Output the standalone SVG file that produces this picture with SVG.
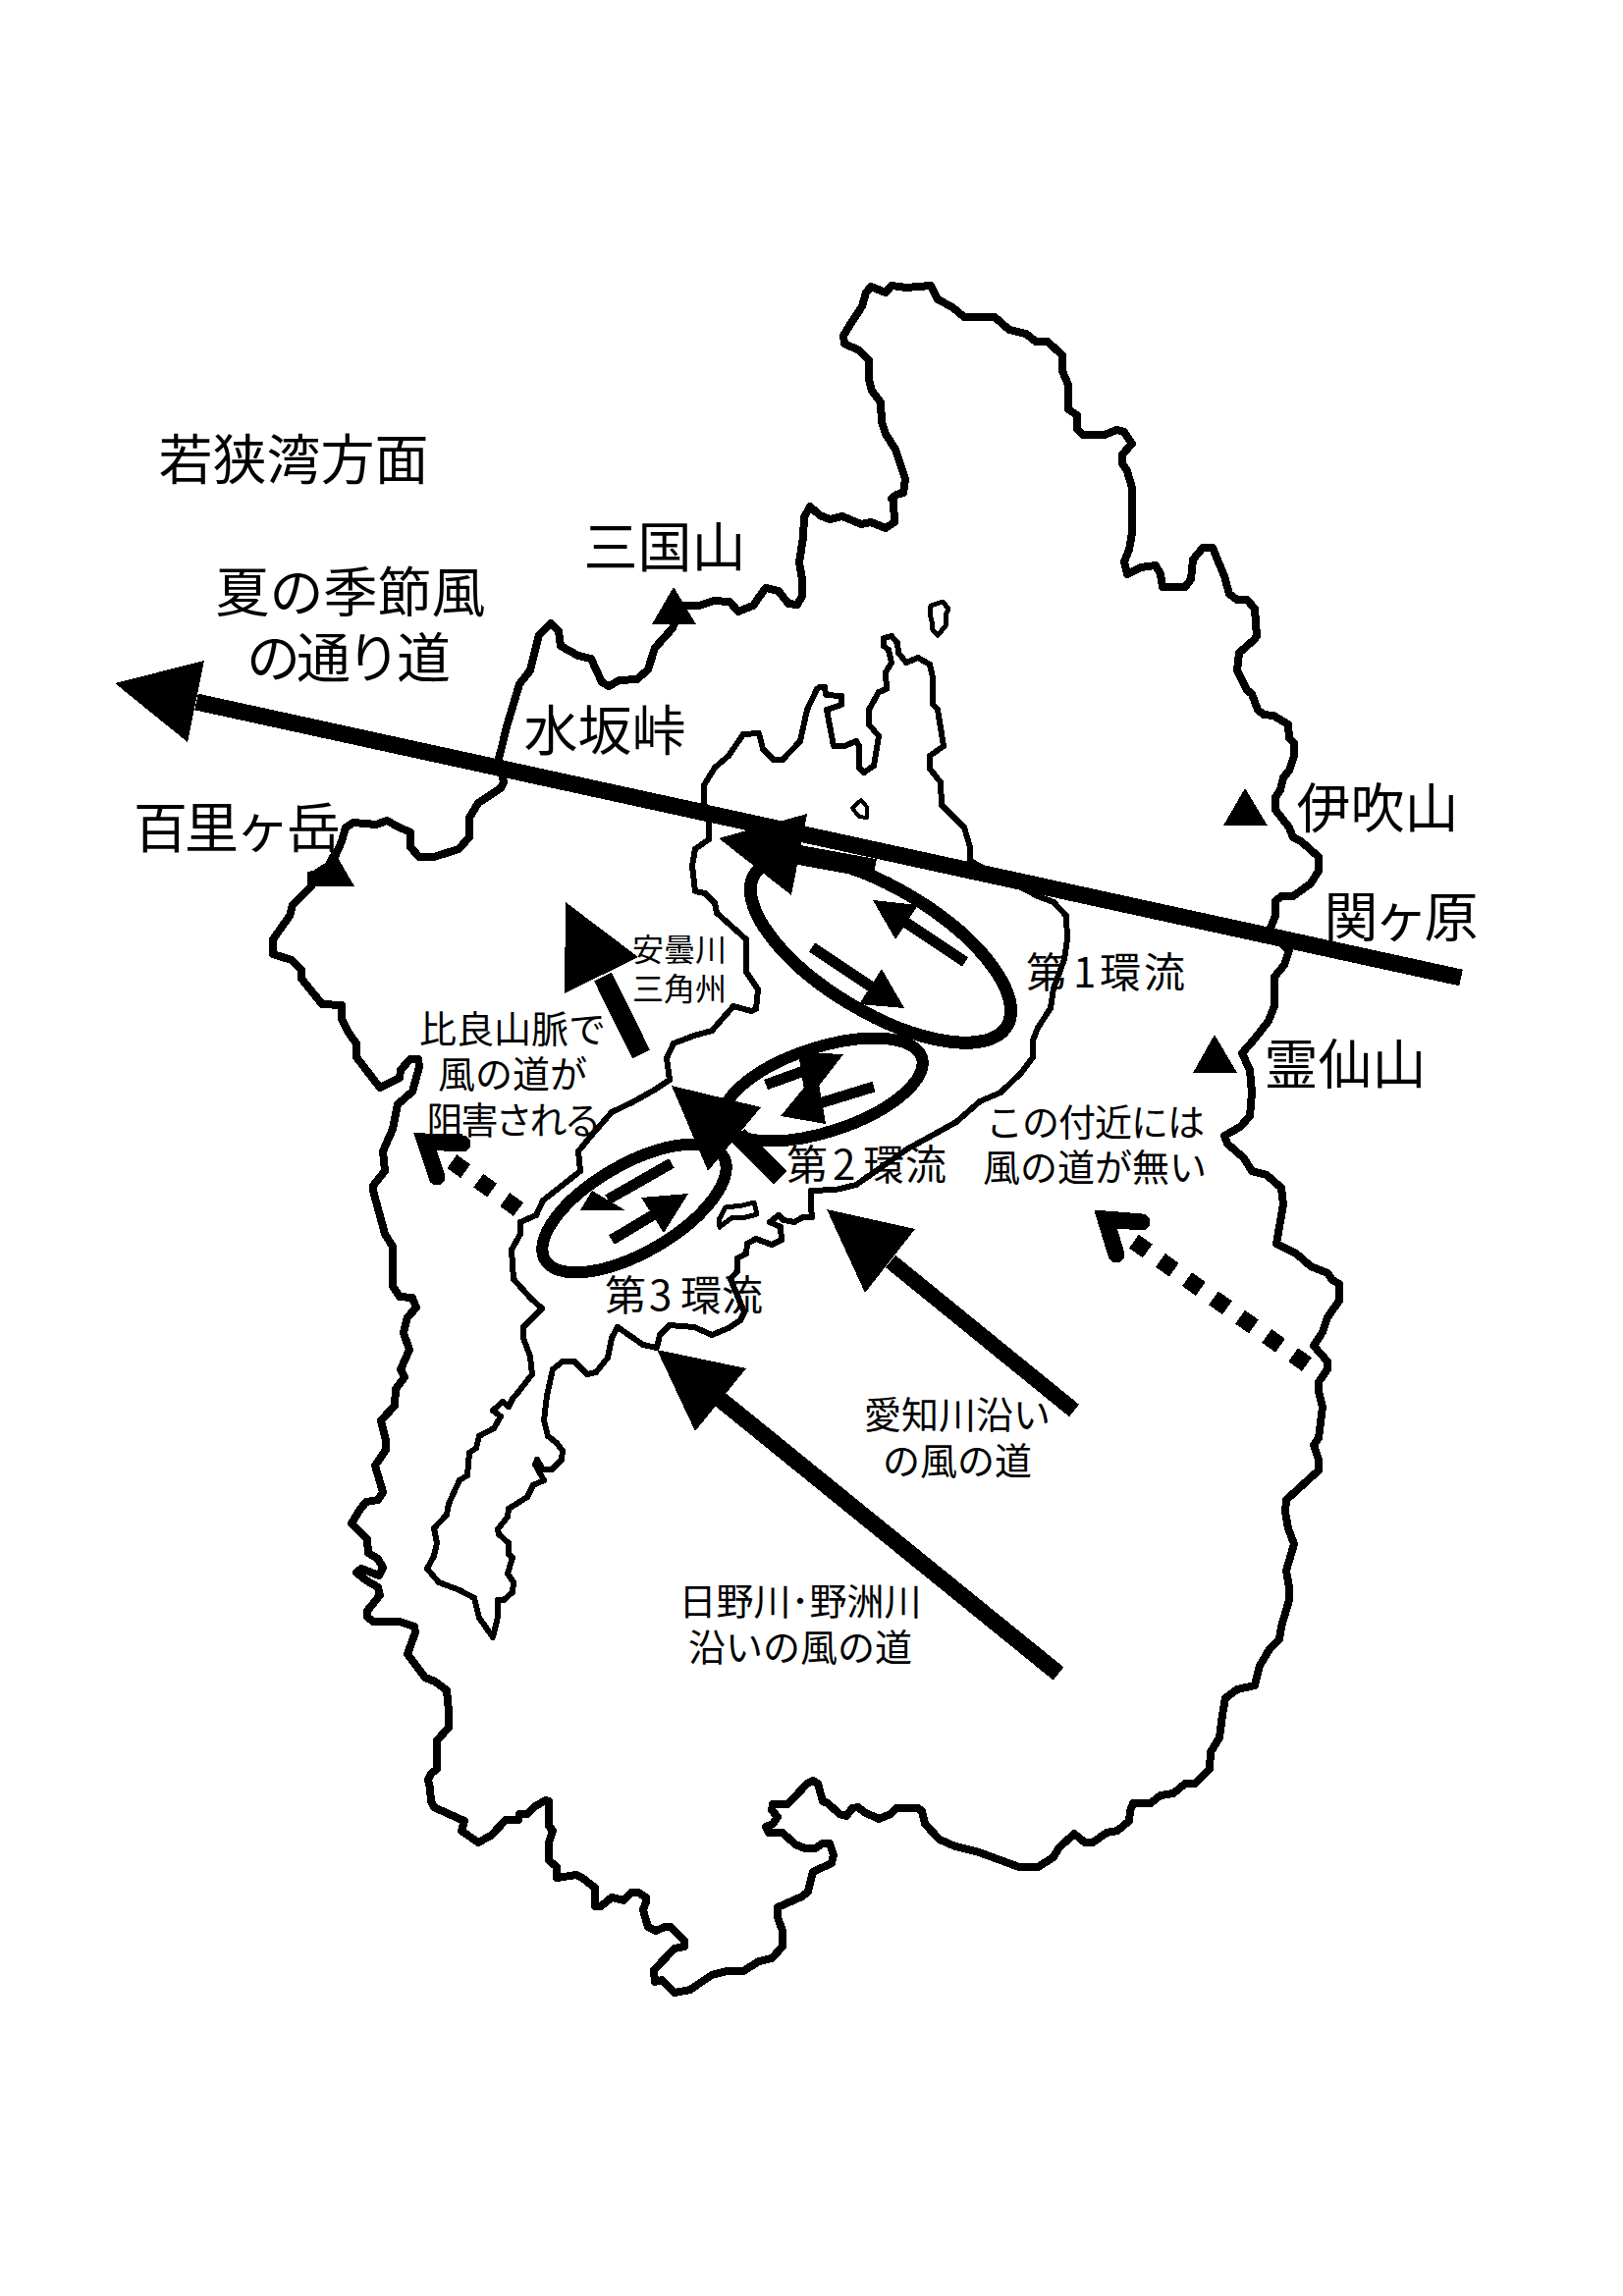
<svg xmlns="http://www.w3.org/2000/svg" width="1653" height="2339" viewBox="0 0 1653 2339">
<style>
.t{font-family:"Noto Sans CJK JP","Liberation Sans",sans-serif;fill:#000;text-anchor:middle}
.s{font-size:32px}.m{font-size:38px}.l{font-size:55px}
.f{font-family:"Noto Sans CJK JP","Liberation Sans",sans-serif;fill:#000;font-size:42px}
.o{fill:none;stroke:#000;stroke-linejoin:round;stroke-linecap:round}
.e{fill:none;stroke:#000}
.k{fill:#000;stroke:none}
.w{stroke:#000;fill:none}
polygon,line,polyline,ellipse{shape-rendering:crispEdges}
</style>
<rect width="1653" height="2339" fill="#fff"/>
<g id="map">
<polygon id="prefecture-outline" class="o" stroke-width="8" points="780,599 793,602 803,615 812,616 817,607 817,590 814,573 818,547 819,527 825,516 835,525 845,529 858,526 877,534 887,532 902,538 911,532 910,510 908,508 913,504 920,502 922,488 912,458 902,442 898,430 897,410 888,398 885,387 885,367 875,357 860,350 859,342 865,332 878,312 882,298 887,292 902,298 908,291 923,293 948,291 955,305 970,313 982,323 1013,323 1028,336 1045,340 1055,348 1067,348 1082,362 1082,378 1088,392 1088,417 1097,423 1097,437 1103,443 1125,443 1137,438 1145,440 1153,452 1143,463 1143,472 1148,480 1153,497 1153,543 1150,560 1145,572 1148,585 1162,578 1177,576 1182,585 1184,598 1207,598 1213,590 1215,570 1225,558 1235,558 1247,587 1252,605 1260,611 1270,611 1278,620 1280,648 1277,652 1262,665 1260,683 1270,703 1275,707 1281,723 1287,728 1297,729 1312,738 1313,752 1318,757 1318,770 1313,785 1307,792 1304,805 1299,812 1299,825 1313,843 1317,853 1325,857 1343,873 1343,887 1335,900 1317,913 1305,913 1299,918 1299,933 1292,950 1313,968 1308,983 1298,995 1298,1025 1292,1040 1278,1058 1265,1073 1273,1090 1275,1113 1273,1137 1263,1148 1247,1157 1250,1165 1267,1180 1275,1193 1290,1197 1305,1210 1307,1227 1300,1267 1320,1277 1335,1290 1352,1297 1357,1304 1364,1308 1364,1325 1352,1342 1347,1357 1338,1371 1352,1387 1352,1395 1343,1408 1343,1417 1347,1433 1343,1465 1338,1472 1343,1487 1343,1498 1333,1507 1310,1528 1309,1540 1312,1557 1318,1573 1310,1600 1313,1617 1313,1630 1305,1657 1303,1670 1293,1680 1283,1697 1278,1717 1260,1721 1248,1730 1245,1747 1242,1770 1233,1785 1232,1802 1217,1817 1207,1817 1195,1827 1182,1829 1172,1837 1154,1837 1151,1845 1150,1855 1138,1865 1127,1867 1113,1877 1105,1877 1094,1868 1078,1883 1073,1892 1057,1902 1038,1902 997,1887 973,1881 957,1874 942,1858 939,1845 935,1842 913,1842 907,1848 895,1853 880,1846 874,1841 868,1842 862,1850 855,1848 843,1837 838,1835 833,1817 828,1814 822,1817 808,1832 802,1838 787,1838 786,1844 792,1851 787,1858 780,1861 783,1867 797,1867 810,1879 820,1883 830,1883 838,1878 845,1878 849,1890 847,1898 828,1907 823,1927 817,1932 792,1943 792,1953 797,1967 797,1983 786,1995 773,1998 757,2008 740,2008 725,2012 710,2022 703,2027 687,2030 680,2023 674,2017 667,2019 666,2007 687,1985 697,1983 697,1977 683,1963 677,1963 668,1967 660,1963 657,1953 655,1945 658,1938 658,1933 650,1928 643,1928 635,1936 623,1933 612,1942 606,1942 606,1923 593,1913 587,1910 567,1913 567,1902 559,1895 559,1877 563,1865 559,1860 559,1835 556,1834 545,1840 537,1848 529,1848 528,1854 515,1854 500,1870 487,1877 470,1865 473,1855 457,1848 442,1841 439,1835 438,1822 436,1813 439,1807 445,1802 445,1773 457,1760 457,1743 455,1722 443,1713 433,1709 415,1685 423,1663 422,1657 407,1652 380,1652 374,1647 374,1641 387,1625 385,1617 373,1610 363,1602 368,1598 386,1605 390,1597 385,1588 375,1582 374,1568 358,1552 367,1537 373,1530 385,1528 390,1520 382,1493 393,1477 393,1468 388,1447 402,1432 403,1415 412,1403 408,1395 417,1375 411,1358 415,1342 424,1332 420,1322 407,1321 400,1310 400,1270 392,1257 380,1213 380,1208 392,1193 390,1173 400,1150 405,1125 420,1112 427,1087 426,1079 418,1079 408,1090 407,1098 387,1108 363,1077 363,1063 355,1052 348,1038 348,1024 328,1023 320,1013 307,997 307,988 297,978 278,972 278,957 295,933 298,922 317,903 317,893 326,887 338,880 348,857 352,843 360,838 383,840 394,836 405,842 418,848 418,863 427,873 442,873 467,865 478,853 478,833 487,818 510,803 513,797 508,773 517,737 529,697 540,683 549,647 561,635 569,643 571,658 589,668 602,671 613,695 620,699 631,693 649,692 660,682 667,660 685,640 694,617 712,617 727,612 743,613 752,623 767,617 779,600"/>
<polygon id="lake-outline" class="o" stroke-width="6" points="832,702 835,700 840,700 841,708 857,709 857,718 842,723 849,760 860,760 872,755 875,760 875,782 880,787 890,780 895,750 885,738 885,723 895,705 903,702 902,685 908,675 905,662 900,658 900,650 908,648 914,655 915,665 923,675 935,670 947,677 950,690 950,717 955,723 961,760 947,770 947,783 958,797 959,820 982,843 988,863 988,877 1057,913 1073,919 1086,933 1087,957 1084,977 1073,1007 1070,1027 1057,1047 1052,1060 1052,1077 1040,1093 1019,1113 998,1122 974,1143 956,1153 925,1170 872,1207 851,1212 826,1213 826,1230 827,1240 818,1240 809,1245 798,1243 793,1238 784,1245 795,1250 796,1263 786,1268 770,1262 761,1267 760,1277 751,1282 751,1295 744,1303 758,1337 754,1345 742,1353 725,1360 707,1352 682,1350 672,1360 669,1373 655,1370 629,1352 623,1363 619,1383 607,1398 598,1400 585,1387 573,1387 563,1395 557,1422 554,1447 558,1463 567,1470 573,1478 572,1487 562,1497 553,1497 547,1487 545,1492 554,1508 543,1513 537,1525 518,1537 517,1545 507,1558 508,1563 518,1572 518,1583 522,1587 517,1603 523,1612 522,1622 513,1630 507,1630 507,1647 502,1668 488,1648 483,1628 468,1620 447,1612 435,1598 442,1585 445,1572 442,1557 455,1543 457,1532 468,1508 476,1503 478,1480 485,1475 488,1463 503,1455 510,1443 502,1437 512,1428 518,1433 522,1425 528,1418 542,1400 540,1382 533,1363 533,1352 552,1333 540,1322 523,1303 521,1273 530,1257 530,1245 546,1238 553,1223 591,1193 589,1173 602,1157 623,1133 644,1123 667,1110 682,1100 679,1078 686,1063 707,1055 725,1050 747,1025 765,1030 770,1028 772,1008 760,990 760,957 730,930 728,920 718,910 708,908 705,882 708,865 722,855 722,838 717,817 717,800 728,782 742,770 757,748 773,747 777,763 788,774 797,774 815,755 822,723"/>
<polygon id="island-a" class="o" stroke-width="5" points="948,617 960,613 966,620 963,627 963,638 955,647 950,642 949,633 947,625"/>
<polygon id="island-b" class="o" stroke-width="4" points="877,815 883,822 883,833 875,832 868,823"/>
<polygon id="island-c" class="o" stroke-width="5" points="739,1230 756,1228 768,1225 771,1237 756,1241 746,1240 733,1250 732,1243"/>
</g>
<g id="mountains">
<polygon id="mt-mikuni" class="k" points="686,598 664,636 709,636"/>
<polygon id="mt-hyakuri" class="k" points="339,865 361,903 313,903 313,888 328,885"/>
<polygon id="mt-ibuki" class="k" points="1268,803 1246,841 1291,841"/>
<polygon id="mt-ryozen" class="k" points="1237,1054 1215,1093 1260,1093"/>
</g>
<g id="gyres">
<ellipse id="gyre-1" class="e" stroke-width="13" cx="897" cy="968" rx="150" ry="63" transform="rotate(31 897 968)"/>
<ellipse id="gyre-2" class="e" stroke-width="12" cx="838" cy="1110" rx="106" ry="43" transform="rotate(-18 838 1110)"/>
<ellipse id="gyre-3" class="e" stroke-width="12" cx="646" cy="1231" rx="105" ry="45" transform="rotate(-30 646 1231)"/>
</g>
<g id="connectors">
<g id="gyre-arrows">
<line class="w" stroke-width="11" x1="983" y1="980" x2="914" y2="934"/><polygon class="k" points="889,917 935,922 912,957"/>
<line class="w" stroke-width="11" x1="827" y1="965" x2="896" y2="1011"/><polygon class="k" points="921,1027 875,1023 898,987"/>
<line class="w" stroke-width="11" x1="780" y1="1105" x2="830" y2="1087"/><polygon class="k" points="859,1074 813,1072 821,1123"/>
<line class="w" stroke-width="11" x1="890" y1="1107" x2="825" y2="1127"/><polygon class="k" points="795,1137 832,1092 841,1145"/>
<line class="w" stroke-width="11" x1="684" y1="1185" x2="619" y2="1222"/><polygon class="k" points="591,1233 603,1213 637,1233"/>
<line class="w" stroke-width="11" x1="623" y1="1263" x2="675" y2="1232"/><polygon class="k" points="701,1216 653,1220 676,1256"/>
</g>
<g id="wind-arrows">
<line class="w" stroke-width="17" x1="1488" y1="996" x2="200" y2="715"/><polygon class="k" points="117,696 208,673 191,756"/>
<line class="w" stroke-width="20" x1="891" y1="885" x2="814" y2="871"/><polygon class="k" points="732,854 822,829 806,912"/>
<line class="w" stroke-width="20" x1="653" y1="1074" x2="614" y2="995"/><polygon class="k" points="576,919 575,1012 650,975"/>
<line class="w" stroke-width="19" x1="795" y1="1200" x2="752" y2="1157"/><polygon class="k" points="684,1106 775,1128 721,1193"/>
<line class="w" stroke-width="16" x1="1094" y1="1437" x2="907" y2="1285"/><polygon class="k" points="842,1232 932,1252 881,1317"/>
<line class="w" stroke-width="17" x1="1078" y1="1705" x2="734" y2="1426"/><polygon class="k" points="669,1375 760,1394 708,1458"/>
</g>
<g id="dotted-arrows">
<line class="w" stroke-width="17" stroke-dasharray="17 16.2" x1="1331" y1="1390" x2="1154" y2="1264"/>
<polyline class="w" stroke-width="17" stroke-linecap="round" stroke-linejoin="miter" stroke-miterlimit="10" points="1163,1245 1126,1242 1137,1278"/>
<line class="w" stroke-width="17" stroke-dasharray="17 16.2" x1="528" y1="1232" x2="460" y2="1183"/>
<polyline class="w" stroke-width="17" stroke-linecap="round" stroke-linejoin="miter" stroke-miterlimit="10" points="471,1165 433,1163 445,1199"/>
</g>
</g>
<g id="labels">
<text class="t l" x="299" y="488">若狭湾方面</text>
<text class="t l" x="677" y="577">三国山</text>
<text class="t l" x="357" y="623">夏の季節風</text>
<text class="t l" x="353" y="690" letter-spacing="-4">の通り道</text>
<text class="t l" x="240" y="863" letter-spacing="-3">百里ヶ岳</text>
<text class="t l" x="616" y="764">水坂峠</text>
<text class="t l" x="1403" y="843">伊吹山</text>
<text class="t l" x="1425" y="954" letter-spacing="-4">関ヶ原</text>
<text class="t l" x="1370" y="1104">霊仙山</text>
<text class="f" x="1045 1093 1120 1165" y="1006">第1環流</text>
<text class="f" x="801 848 879 922" y="1202">第2環流</text>
<text class="f" x="616 661 693 735" y="1335">第3環流</text>
<text class="t s" x="692" y="979">安曇川</text>
<text class="t s" x="692" y="1019">三角州</text>
<text class="t m" x="522" y="1062">比良山脈で</text>
<text class="t m" x="522" y="1108">風の道が</text>
<text class="t m" x="522" y="1155" letter-spacing="-3">阻害される</text>
<text class="t m" x="1115" y="1157" letter-spacing="-1">この付近には</text>
<text class="t m" x="1115" y="1203">風の道が無い</text>
<text class="t m" x="975" y="1455">愛知川沿い</text>
<text class="t m" x="975" y="1502">の風の道</text>
<text class="t m" x="815" y="1645">日野川･野洲川</text>
<text class="t m" x="815" y="1692">沿いの風の道</text>
</g>
</svg>
